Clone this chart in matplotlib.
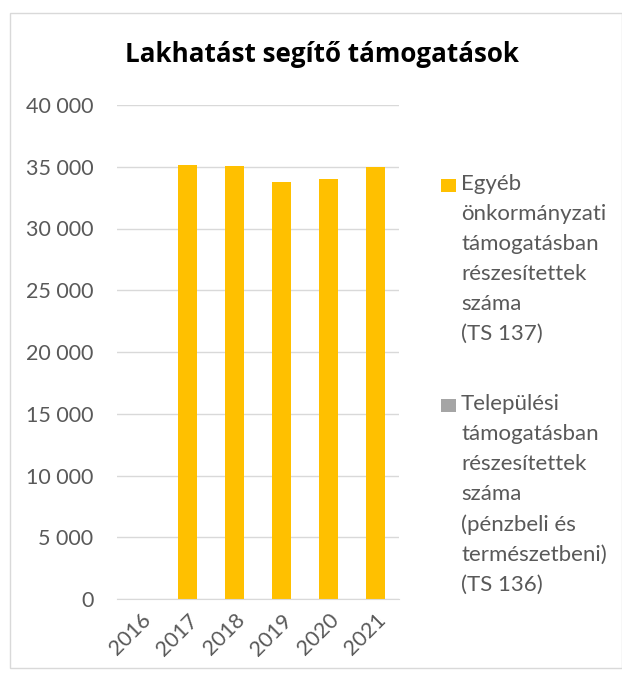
import matplotlib
matplotlib.use("Agg")
import matplotlib.pyplot as plt
from matplotlib.patches import Rectangle
import numpy as np

years = ["2016", "2017", "2018", "2019", "2020", "2021"]
ts137 = [np.nan, 35140, 35080, 33790, 34030, 35020]
ts136 = [np.nan, np.nan, np.nan, np.nan, np.nan, np.nan]
yticks = [0, 5000, 10000, 15000, 20000, 25000, 30000, 35000, 40000]
title = "Lakhatást segítő támogatások"
label137 = "Egyéb\nönkormányzati\ntámogatásban\nrészesítettek\nszáma\n(TS 137)"
label136 = "Települési\ntámogatásban\nrészesítettek\nszáma\n(pénzbeli és\ntermészetbeni)\n(TS 136)"

plt.rcParams['font.family'] = ['Lato', 'DejaVu Sans']
W, H = 622, 680
fig = plt.figure(figsize=(W/100, H/100), dpi=100)
fig.patches.append(Rectangle((10/W, 1 - 668/H), 612/W, 655/H, transform=fig.transFigure,
                             fill=False, edgecolor="#D9D9D9", linewidth=1))

ax = fig.add_axes([117/W, 1 - 599/H, 282/W, 494/H])
x = np.arange(len(years))
ax.bar(x, ts136, width=0.4, color="#A5A5A5")
ax.bar(x, ts137, width=0.4, color="#FFC000")
ax.set_xlim(-0.5, len(years) - 0.5)
ax.set_ylim(0, 40000)
ax.set_yticks(yticks)
ax.set_yticklabels([f"{v:,}".replace(",", " ") for v in yticks])
ax.set_xticks(x)
ax.set_xticklabels(years, rotation=45, ha="right", rotation_mode="anchor")
ax.yaxis.grid(True, color="#D9D9D9", linewidth=1)
ax.set_axisbelow(True)
for s in ["top", "right", "left"]:
    ax.spines[s].set_visible(False)
ax.spines["bottom"].set_color("#D9D9D9")
ax.tick_params(axis="both", length=0, colors="#595959", labelsize=15.5)
ax.tick_params(axis="y", pad=17)
ax.tick_params(axis="x", pad=8)

fig.text(322/W, 1 - 55/H, title, ha="center", va="center", fontsize=18.7, fontweight="bold",
         color="black", family=["Open Sans", "DejaVu Sans"])

def legend_entry(y_top, color, text):
    fig.patches.append(Rectangle((441/W, 1 - (y_top + 13)/H), 15/W, 13/H, transform=fig.transFigure,
                                 facecolor=color, edgecolor="none"))
    fig.text(461/W, 1 - (y_top - 5)/H, text, ha="left", va="top", fontsize=16,
             color="#595959", linespacing=1.62)

legend_entry(179, "#FFC000", label137)
legend_entry(399, "#A5A5A5", label136)

fig.savefig("out.png", dpi=100)
